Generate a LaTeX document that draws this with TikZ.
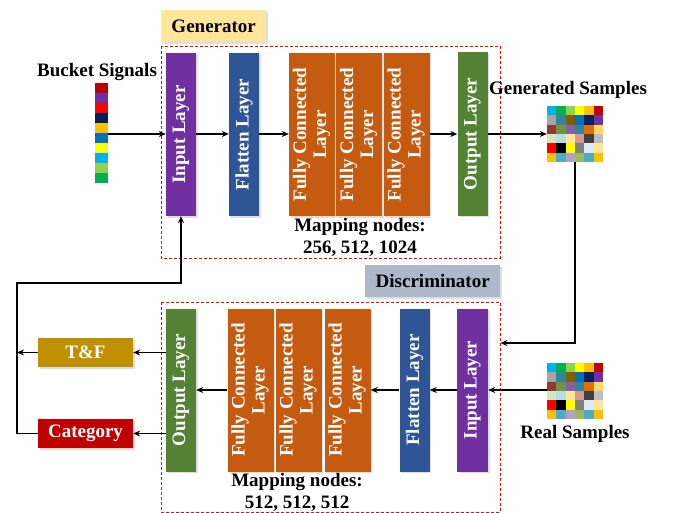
\documentclass[tikz,border=0pt]{standalone}
\usepackage{fontspec}
\setmainfont{Liberation Serif}
\usetikzlibrary{arrows.meta,shadows}
\definecolor{cpurple}{HTML}{7030A0}
\definecolor{cblue}{HTML}{2F5597}
\definecolor{corange}{HTML}{C55A11}
\definecolor{cgreen}{HTML}{548235}
\definecolor{cgenlab}{HTML}{FFE699}
\definecolor{cdislab}{HTML}{ADB9CA}
\definecolor{ctf}{HTML}{BF9000}
\definecolor{ccat}{HTML}{C00000}
\begin{document}
\begin{tikzpicture}[x=1pt,y=-1pt,
  every node/.style={font=\bfseries\fontsize{19}{20}\selectfont, inner sep=0pt},
  layer/.style={minimum width=30pt, minimum height=163pt, text=white,
     drop shadow={opacity=0.25, shadow xshift=1.5pt, shadow yshift=-1.5pt}},
  fclayer/.style={layer, fill=corange, minimum width=46pt, align=center},
  lbl/.style={minimum height=32pt, drop shadow={opacity=0.25, shadow xshift=1.5pt, shadow yshift=-1.5pt}},
  outbox/.style={minimum width=95pt, minimum height=29pt, text=white,
     drop shadow={opacity=0.25, shadow xshift=1.5pt, shadow yshift=-1.5pt}},
  dashbox/.style={draw=red, dashed, line width=0.9pt, dash pattern=on 3pt off 2pt},
  arr/.style={-{Stealth[length=7pt,width=6pt]}, line width=1.4pt},
  txt/.style={align=center}]
\useasboundingbox (0,0) rectangle (685,513);
\clip (0,0) rectangle (685,513);
\fill[white] (0,0) rectangle (685,513);

% ---------- Generator ----------
\node[lbl, fill=cgenlab, minimum width=105pt, anchor=north west] (genlab) at (161,10) {Generator};
\draw[dashbox] (161,46) rectangle (500,258);
\node[minimum width=339pt, minimum height=212pt, anchor=north west] (genbox) at (161,46) {};

\node[layer, fill=cpurple] (gin) at (181,134.5) {\rotatebox{90}{Input Layer}};
\node[layer, fill=cblue] (gfl) at (244,134.5) {\rotatebox{90}{Flatten Layer}};
\node[fclayer] (gfc1) at (312,134.5) {\rotatebox{90}{\begin{tabular}{@{}c@{}}Fully Connected\\Layer\end{tabular}}};
\node[fclayer] (gfc2) at (359,134.5) {\rotatebox{90}{\begin{tabular}{@{}c@{}}Fully Connected\\Layer\end{tabular}}};
\node[fclayer] (gfc3) at (406.5,134.5) {\rotatebox{90}{\begin{tabular}{@{}c@{}}Fully Connected\\Layer\end{tabular}}};
\node[layer, fill=cgreen] (gout) at (472.5,134) {\rotatebox{90}{Output Layer}};
\node[txt] (gmap) at (360,237) {Mapping nodes:\\[2pt]256, 512, 1024};

% bucket signals
\node (bstxt) at (97,72) {Bucket Signals};
\foreach \c [count=\i from 0] in {C00000,7030A0,FF0000,002060,FFC000,0070C0,FFFF00,00B0F0,92D050,00B050}{
  \definecolor{tmp}{HTML}{\c}
  \fill[tmp] (95,83+10*\i) rectangle (108,93+10*\i);
}
\coordinate (bsr) at (108,134);

% generated samples grid
\node (gstxt) at (568,90) {Generated Samples};
\newcommand{\colgrid}[2]{%
 \foreach \r/\row in {0/{00B0F0,00B050,92D050,FFFF00,FFC000,C00000},
                      1/{A5A5A5,31859C,7F6000,0070C0,002060,7030A0},
                      2/{943634,76923C,8064A2,31849B,E46C0A,FFD966},
                      3/{D8E4BC,B7DEE8,FFE699,DA9694,404040,BFBFBF},
                      4/{FF0000,000000,FFFF00,808080,DDEBF7,FFE699},
                      5/{FFC000,4BACC6,B1A0C7,9BBB59,4BACC6,FFC000}}{
   \foreach \cc [count=\k from 0] in \row {
     \definecolor{tmp}{HTML}{\cc}
     \fill[tmp] (#1+9.33*\k,#2+9.33*\r) rectangle (#1+9.33*\k+9.4,#2+9.33*\r+9.4);
   }}}
\colgrid{547}{106}
\node[minimum width=56pt, minimum height=56pt] (gsgrid) at (575,134) {};

% ---------- Discriminator ----------
\node[lbl, fill=cdislab, minimum width=135pt, anchor=north west] (dislab) at (365,265) {Discriminator};
\draw[dashbox] (161,302) rectangle (500,512);
\node[minimum width=339pt, minimum height=210pt, anchor=north west] (disbox) at (161,302) {};

\node[layer, fill=cpurple, minimum width=31pt] (din) at (472.5,390) {\rotatebox{90}{Input Layer}};
\node[layer, fill=cblue] (dfl) at (414.5,390) {\rotatebox{90}{Flatten Layer}};
\node[fclayer] (dfc3) at (347.5,390) {\rotatebox{90}{\begin{tabular}{@{}c@{}}Fully Connected\\Layer\end{tabular}}};
\node[fclayer] (dfc2) at (298.5,390) {\rotatebox{90}{\begin{tabular}{@{}c@{}}Fully Connected\\Layer\end{tabular}}};
\node[fclayer] (dfc1) at (250.5,390) {\rotatebox{90}{\begin{tabular}{@{}c@{}}Fully Connected\\Layer\end{tabular}}};
\node[layer, fill=cgreen] (dout) at (181,390) {\rotatebox{90}{Output Layer}};
\node[txt] (dmap) at (297,492.5) {Mapping nodes:\\[2pt]512, 512, 512};

% real samples
\colgrid{547}{363}
\node[minimum width=56pt, minimum height=56pt] (rsgrid) at (575,391) {};
\node (rstxt) at (575,434) {Real Samples};

% outputs
\node[outbox, fill=ctf] (tf) at (85.5,352.5) {T\&F};
\node[outbox, fill=ccat] (cat) at (85.5,433.5) {Category};

% ---------- connectors ----------
\draw[arr] (bsr) -- (gin.west |- bsr);
\draw[arr] (gin.east |- 0,134) -- (gfl.west |- 0,134);
\draw[arr] (gfl.east |- 0,134) -- (gfc1.west |- 0,134);
\draw[arr] (gfc3.east |- 0,134) -- (gout.west |- 0,134);
\draw[arr] (gout.east |- 0,134) -- (gsgrid.west);

\draw[arr] (gsgrid.south) -- (575,343) -- (disbox.east |- 0,343);

\draw[arr] (rsgrid.west |- 0,390) -- (din.east |- 0,390);
\draw[arr] (din.west |- 0,390) -- (dfl.east |- 0,390);
\draw[arr] (dfl.west |- 0,390) -- (dfc3.east |- 0,390);
\draw[arr] (dfc1.west |- 0,390) -- (dout.east |- 0,390);

\draw[arr] (dout.west |- tf) -- (tf.east);
\draw[arr] (dout.west |- cat) -- (cat.east);

\coordinate (fbl) at (17,283);
\draw[arr] (tf.west) -- (fbl |- tf);
\draw[arr] (cat.west) -- (fbl |- cat) -- (fbl) -- (gin.south |- fbl) -- (gin.south);
\end{tikzpicture}
\end{document}
